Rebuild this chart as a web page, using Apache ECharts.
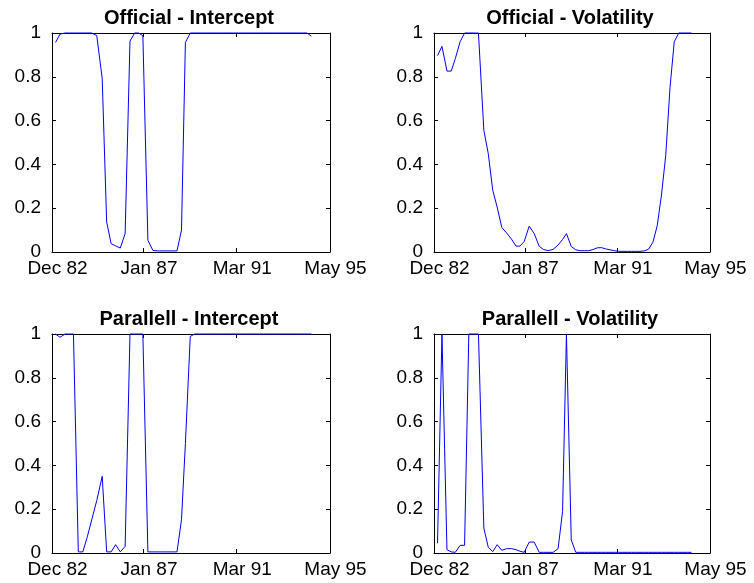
<!DOCTYPE html>
<html>
<head>
<meta charset="utf-8">
<script src="https://cdn.jsdelivr.net/npm/echarts@6/dist/echarts.min.js"></script>
<style>
  html, body { margin: 0; padding: 0; background: #fff; }
  #chart { width: 754px; height: 583px; }
</style>
</head>
<body>
<div id="chart"></div>
<script>
// Months elapsed since Dec 1982 for each observation
const obsMonths = [1.9, 4.3, 7.0, 9.3, 11.5, 14.1, 16.5, 18.8, 21.4, 24.0,
  26.9, 29.3, 31.7, 34.1, 36.6, 39.2, 41.8, 44.3, 46.4, 48.7,
  51.4, 54.1, 56.8, 59.0, 61.6, 64.3, 67.0, 69.4, 71.5, 74.1,
  76.5, 78.9, 81.2, 83.5, 85.8, 88.1, 90.4, 92.7, 95.0, 97.4,
  99.7, 102.0, 104.3, 106.6, 108.9, 111.2, 113.5, 115.9, 118.2, 120.5,
  122.8, 125.1, 127.4, 129.7, 132.1, 134.4, 136.7, 139.0];

// Date ticks on the x axis (months since Dec 1982) and their labels
const tickMonths = [0, 49, 99, 149];
const tickLabels = ['Dec 82', 'Jan 87', 'Mar 91', 'May 95'];

const officialIntercept = [0.957, 0.995, 1, 1, 1, 1, 1, 1, 1, 0.988,
  0.793, 0.137, 0.038, 0.028, 0.018, 0.084, 0.963, 1, 1, 0.988,
  0.053, 0.007, 0.005, 0.005, 0.005, 0.005, 0.005, 0.10, 0.957, 1,
  1, 1, 1, 1, 1, 1, 1, 1, 1, 1,
  1, 1, 1, 1, 1, 1, 1, 1, 1, 1,
  1, 1, 1, 1, 1, 1, 1, 0.985];

const officialVolatility = [0.897, 0.939, 0.826, 0.826, 0.883, 0.96, 1, 1, 1, 1,
  0.556, 0.449, 0.282, 0.205, 0.112, 0.087, 0.059, 0.027, 0.027, 0.048,
  0.118, 0.084, 0.026, 0.012, 0.006, 0.012, 0.032, 0.057, 0.084, 0.025,
  0.010, 0.006, 0.006, 0.006, 0.011, 0.019, 0.020, 0.014, 0.010, 0.006,
  0.003, 0.003, 0.003, 0.003, 0.003, 0.003, 0.005, 0.013, 0.045, 0.12,
  0.26, 0.44, 0.75, 0.96, 1, 1, 1, 1];

const parallellIntercept = [1, 0.985, 1, 1, 1, 0.005, 0.005, 0.07, 0.155, 0.24,
  0.35, 0.005, 0.005, 0.038, 0.005, 0.03, 1, 1, 1, 1,
  0.005, 0.005, 0.005, 0.005, 0.005, 0.005, 0.005, 0.152, 0.5, 0.989,
  1, 1, 1, 1, 1, 1, 1, 1, 1, 1,
  1, 1, 1, 1, 1, 1, 1, 1, 1, 1,
  1, 1, 1, 1, 1, 1, 1, 1];

const parallellVolatility = [0.045, 1, 0.015, 0.005, 0.003, 0.035, 0.035, 1, 1, 1,
  0.114, 0.026, 0.006, 0.038, 0.012, 0.02, 0.02, 0.015, 0.008, 0.003,
  0.05, 0.05, 0.003, 0.003, 0.003, 0.003, 0.02, 0.19, 1, 0.06,
  0.003, 0.003, 0.003, 0.003, 0.003, 0.003, 0.003, 0.003, 0.003, 0.003,
  0.003, 0.003, 0.003, 0.003, 0.003, 0.003, 0.003, 0.003, 0.003, 0.003,
  0.003, 0.003, 0.003, 0.003, 0.003, 0.003, 0.003, 0.003];

const panelTitles = ['Official - Intercept', 'Official - Volatility',
  'Parallell - Intercept', 'Parallell - Volatility'];
const panelSeries = [officialIntercept, officialVolatility, parallellIntercept, parallellVolatility];

// Subplot boxes in pixels
const boxes = [
  { left: 52, top: 33, width: 278, height: 219 },
  { left: 434, top: 33, width: 276, height: 219 },
  { left: 52, top: 334, width: 278, height: 219 },
  { left: 434, top: 334, width: 276, height: 219 }
];

const FONT = '"Liberation Sans", Arial, sans-serif';
const tickStyle = { show: true, inside: true, length: 4, lineStyle: { color: '#000', width: 1 } };
const lineStyleAxis = { show: true, onZero: false, lineStyle: { color: '#000', width: 1 } };

const grid = [], xAxis = [], yAxis = [], series = [], title = [];

boxes.forEach((b, i) => {
  grid.push({ left: b.left, top: b.top, width: b.width, height: b.height, containLabel: false });

  title.push({
    text: panelTitles[i],
    left: b.left + b.width / 2 - 2,
    top: b.top - 25,
    textAlign: 'center',
    padding: 0,
    textStyle: { fontFamily: FONT, fontSize: 20, fontWeight: 'bold', color: '#000' }
  });

  // bottom axis with date labels
  xAxis.push({
    type: 'value', gridIndex: i, position: 'bottom', min: 0, max: 149,
    axisLine: lineStyleAxis,
    axisTick: Object.assign({ customValues: tickMonths }, tickStyle),
    axisLabel: {
      customValues: tickMonths,
      formatter: v => tickLabels[tickMonths.indexOf(v)] || '',
      fontFamily: FONT, fontSize: 19, color: '#000', margin: 7,
      padding: [0, 0, 0, 11]
    },
    splitLine: { show: false }
  });
  // top edge of the box
  xAxis.push({
    type: 'value', gridIndex: i, position: 'top', min: 0, max: 149,
    axisLine: lineStyleAxis,
    axisTick: Object.assign({ customValues: tickMonths }, tickStyle),
    axisLabel: { show: false },
    splitLine: { show: false }
  });
  // left axis with probability labels
  yAxis.push({
    type: 'value', gridIndex: i, position: 'left', min: 0, max: 1, interval: 0.2,
    axisLine: lineStyleAxis,
    axisTick: tickStyle,
    axisLabel: {
      fontFamily: FONT, fontSize: 19, color: '#000', margin: 11,
      formatter: v => String(Math.round(v * 10) / 10)
    },
    splitLine: { show: false }
  });
  // right edge of the box
  yAxis.push({
    type: 'value', gridIndex: i, position: 'right', min: 0, max: 1, interval: 0.2,
    axisLine: lineStyleAxis,
    axisTick: tickStyle,
    axisLabel: { show: false },
    splitLine: { show: false }
  });

  series.push({
    type: 'line',
    xAxisIndex: i * 2,
    yAxisIndex: i * 2,
    data: obsMonths.map((m, k) => [m, panelSeries[i][k]]),
    showSymbol: false,
    symbol: 'none',
    lineStyle: { color: '#0000ff', width: 1 },
    z: 5,
    clip: false
  });
});

const chart = echarts.init(document.getElementById('chart'), null, { renderer: 'canvas' });
chart.setOption({
  animation: false,
  backgroundColor: '#fff',
  title, grid, xAxis, yAxis, series
});
</script>
</body>
</html>
